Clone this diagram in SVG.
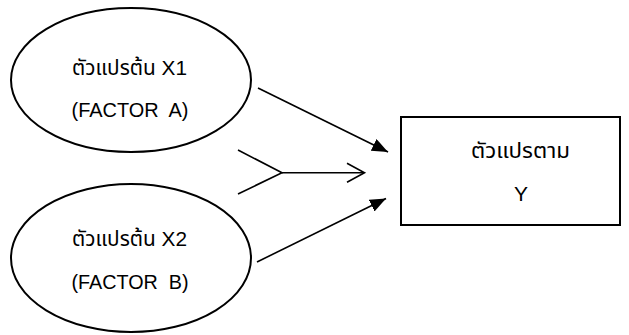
<svg xmlns="http://www.w3.org/2000/svg" width="629" height="335" viewBox="0 0 629 335">
<style>
.shape{fill:#fff;stroke:#000;stroke-width:2}
.t{font-family:"Liberation Sans","Noto Sans Thai","DejaVu Sans",sans-serif;font-size:21px;fill:#000;text-anchor:middle}
.c{fill:none;stroke:#000;stroke-width:1.6}
</style>
<defs>
<marker id="tri" markerUnits="userSpaceOnUse" markerWidth="17" markerHeight="14" refX="16" refY="6.5" orient="auto">
<path d="M0,0 L16,6.5 L0,13 z" fill="#000"/>
</marker>
</defs>
<rect width="629" height="335" fill="#fff"/>
<g id="x1">
<ellipse class="shape" cx="131" cy="80" rx="120" ry="72"/>
<text class="t" x="129.5" y="75" textLength="115" lengthAdjust="spacingAndGlyphs">ตัวแปรต้น X1</text>
<text class="t" x="130" y="117" textLength="117" lengthAdjust="spacingAndGlyphs" xml:space="preserve">(FACTOR  A)</text>
</g>
<g id="x2">
<ellipse class="shape" cx="131" cy="258" rx="120" ry="74"/>
<text class="t" x="129.5" y="246" textLength="115" lengthAdjust="spacingAndGlyphs">ตัวแปรต้น X2</text>
<text class="t" x="130" y="289" textLength="117" lengthAdjust="spacingAndGlyphs" xml:space="preserve">(FACTOR  B)</text>
</g>
<g id="y">
<rect class="shape" x="401" y="117" width="219" height="108"/>
<text class="t" x="520.5" y="158" textLength="99" lengthAdjust="spacingAndGlyphs">ตัวแปรตาม</text>
<text class="t" x="521" y="201">Y</text>
</g>
<g id="connectors">
<line class="c" x1="258" y1="88" x2="388" y2="152" marker-end="url(#tri)"/>
<line class="c" x1="257" y1="262" x2="386" y2="198.5" marker-end="url(#tri)"/>
<polyline class="c" points="238,150 282,172.7 238,194"/>
<line class="c" x1="282" y1="172.7" x2="364" y2="172.7"/>
<polyline class="c" points="347,163.3 364.5,172.7 347,182.3"/>
</g>
</svg>
